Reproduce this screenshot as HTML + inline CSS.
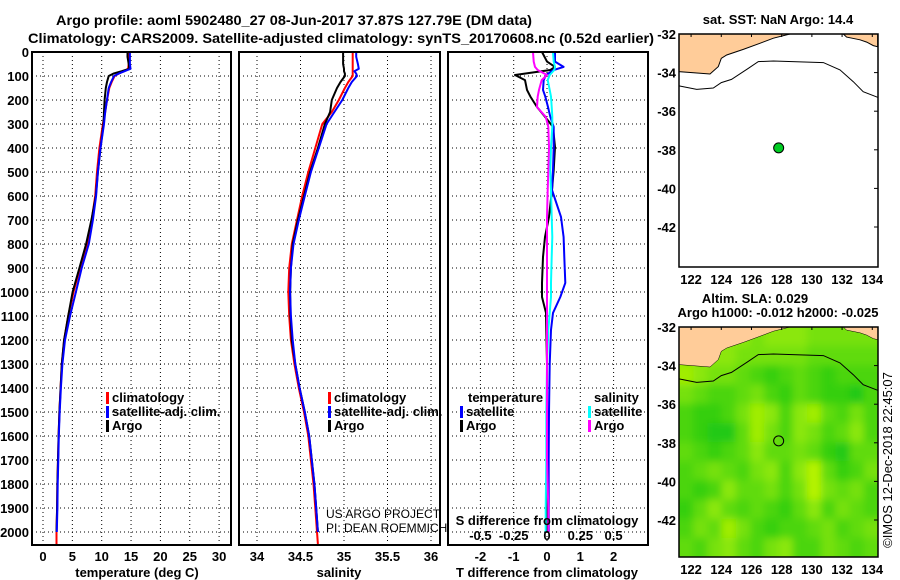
<!DOCTYPE html>
<html><head><meta charset="utf-8">
<style>
html,body{margin:0;padding:0;background:#fff;}
svg{display:block;font-family:"Liberation Sans",Arial,sans-serif;}
.b{font-weight:bold;}
</style></head>
<body>
<svg id="c" width="900" height="580" viewBox="0 0 900 580" xmlns="http://www.w3.org/2000/svg">
<text x="294" y="25" text-anchor="middle" class="b" font-size="14" textLength="476" lengthAdjust="spacingAndGlyphs">Argo profile: aoml 5902480_27 08-Jun-2017 37.87S 127.79E (DM data)</text>
<text x="341" y="43" text-anchor="middle" class="b" font-size="14" textLength="626" lengthAdjust="spacingAndGlyphs">Climatology: CARS2009. Satellite-adjusted climatology: synTS_20170608.nc (0.52d earlier)</text>
<g id="layer"></g>
</svg>
<script>
// ---------- data ----------
const depths = [0,20,50,70,80,90,100,125,150,200,250,300,400,500,600,700,800,900,1000,1100,1200,1300,1400,1500,1600,1700,1800,1900,2000,2050];
const tClim = [14.6,14.6,14.6,14.5,13.8,12.9,12.2,11.7,11.3,10.9,10.6,10.2,9.6,9.2,8.9,8.3,7.5,6.3,5.2,4.3,3.6,3.2,3.0,2.8,2.65,2.55,2.45,2.4,2.3,2.3];
const tSat = [14.8,14.8,14.8,14.9,13.9,12.9,12.1,11.6,11.2,10.9,10.6,10.4,9.8,9.35,9.05,8.5,7.8,6.6,5.6,4.6,3.75,3.3,3.05,2.85,2.7,2.6,2.5,2.45,2.35,null];
const tArgo = [14.4,14.4,14.6,14.7,13.4,12.0,11.2,10.9,10.7,10.5,10.4,10.3,9.8,9.35,9.0,8.25,7.35,6.2,5.05,4.3,3.6,3.2,3.0,2.8,2.65,2.55,2.45,2.4,2.3,null];
const sClim = [35.1,35.1,35.1,35.1,35.1,35.1,35.1,35.05,35.01,34.94,34.86,34.75,34.67,34.59,34.52,34.46,34.40,34.37,34.36,34.37,34.39,34.43,34.48,34.54,34.59,34.62,34.65,34.67,34.69,34.70];
const sSat = [35.14,35.14,35.16,35.17,35.12,35.14,35.15,35.09,35.05,34.98,34.89,34.80,34.71,34.62,34.55,34.48,34.42,34.39,34.38,34.39,34.41,34.44,34.49,34.55,34.6,34.63,34.66,34.68,34.70,null];
const sArgo = [34.99,34.99,34.99,35.0,35.0,35.01,35.01,34.96,34.92,34.86,34.84,34.78,34.70,34.61,34.54,34.47,34.41,34.39,34.38,34.385,34.40,34.44,34.49,34.55,34.60,34.63,34.66,34.68,34.70,null];

const dDepths = [0,40,62,75,96,117,158,186,229,270,312,396,492,575,687,771,854,962,1021,1087,1158,1300,1500,1700,1900,2000];
const dTArgo = [-0.15,0.0,0.24,0.1,-0.96,-0.66,-0.6,-0.5,-0.3,-0.06,0.18,0.24,0.2,0.15,0.06,-0.06,-0.12,-0.15,-0.15,-0.03,-0.02,0.0,0.0,0.0,0.0,0.0];
const dTSat = [0.24,0.24,0.5,0.2,-0.03,-0.1,-0.12,-0.05,0.03,0.1,0.2,0.2,0.18,0.15,0.42,0.5,0.52,0.55,0.4,0.18,0.12,0.08,0.06,0.05,0.05,0.05];
const dSArgo = [-0.105,-0.1,-0.09,-0.07,0.0,-0.04,-0.06,-0.07,-0.075,-0.01,0.01,0.015,0.01,0.005,0.0,0.0,0.0,0.0,0.0,0.0,0.0,0.0,0.0,0.0,0.01,0.01];
const dSSat = [0.045,0.05,0.06,0.055,0.02,0.005,0.02,0.03,0.035,0.04,0.04,0.03,0.025,0.03,0.035,0.04,0.035,0.03,0.03,0.02,0.01,0.0,-0.005,-0.005,-0.01,-0.01];

const depthTicks = [0,100,200,300,400,500,600,700,800,900,1000,1100,1200,1300,1400,1500,1600,1700,1800,1900,2000];
const tTicks = [0,5,10,15,20,25,30];
const sTicks = [34,34.5,35,35.5,36];
const sTickLabels = ["34","34.5","35","35.5","36"];
const tdTicks = [-2,-1,0,1,2];
const sdTicks = [-0.5,-0.25,0,0.25,0.5];
const sdTickLabels = ["-0.5","-0.25","0","0.25","0.5"];

const latTicks = [-32,-34,-36,-38,-40,-42];
const lonTicks = [122,124,126,128,130,132,134];
const floatLon = [127.8];
const floatLat = [-37.9];
const landWestLon = [121.2,121.2,123.25,123.8,124.0,124.36,125.46,126.56,127.45,128.55];
const landWestLat = [-32,-33.95,-34.07,-33.69,-33.26,-33.09,-32.8,-32.48,-32.22,-32];
const landEastLon = [132.08,132.3,133.19,133.63,134.07,134.36,134.36];
const landEastLat = [-32,-32.16,-32.3,-32.42,-32.6,-32.66,-32];
const isoLon = [121.2,122.37,123.47,124.0,124.68,125.78,126.45,127.45,130.76,131.86,132.74,133.4,134.36];
const isoLat = [-34.69,-34.87,-34.8,-34.52,-34.35,-33.78,-33.43,-33.4,-33.48,-33.86,-34.47,-34.99,-35.28];
const slaGrid = [
[.6,.6,.6,.6,.6,.5,.6,.6,.6,.5,.5,.5,.5,.5],
[.6,.6,.6,.6,.5,.5,.5,.5,.5,.4,.4,.4,.4,.4],
[.7,.6,.5,.5,.4,.3,.2,.3,.4,.3,.2,.3,.3,.3],
[.5,.4,.3,.3,.4,.5,.3,.2,.4,.3,.2,.2,.1,.3],
[.3,.2,.2,.3,.5,.7,.6,.3,.6,.7,.4,.3,.5,.3],
[.3,.2,.1,.1,.4,.7,.5,.3,.6,.5,.3,.4,.6,.3],
[.4,.3,.2,.3,.4,.6,.4,.4,.5,.4,.2,.1,.4,.4],
[.3,.4,.5,.4,.3,.5,.6,.3,.6,.8,.4,.2,.3,.5],
[.3,.2,.3,.6,.4,.4,.5,.3,.5,.8,.5,.4,.5,.3],
[.2,.4,.6,.4,.3,.4,.3,.2,.4,.6,.3,.5,.4,.3],
[.3,.5,.4,.7,.5,.3,.2,.3,.3,.4,.5,.3,.4,.5],
[.4,.3,.5,.6,.4,.3,.5,.6,.3,.3,.5,.4,.3,.4]
];

// ---------- scales ----------
const yD = d => 52 + d*0.24;
const xT = t => 43 + t*5.87;
const xS = s => 257 + (s-34)*87;
const xTd = v => 547 + v*33.3;
const xSd = v => 547 + v*133.2;
const lonX = l => 679 + (l-121.2)*15.1;
const latY1 = la => 34 + (-32-la)*19.3;
const latY2 = la => 327 + (-32-la)*19.3;

const NS = "http://www.w3.org/2000/svg";
const L = document.getElementById('layer');
function mk(tag, attrs, parent){
  const e = document.createElementNS(NS, tag);
  for (const k in attrs) e.setAttribute(k, attrs[k]);
  (parent||L).appendChild(e);
  return e;
}
function txt(x,y,s,size,anchor,bold,parent){
  const e = mk('text',{x:x,y:y,'font-size':size,'text-anchor':anchor||'start'},parent);
  if (bold) e.setAttribute('font-weight','bold');
  e.textContent = s;
  return e;
}
function linePath(ds, vs, xf){
  let p = '';
  for (let i=0;i<ds.length;i++){
    if (vs[i]===null || vs[i]===undefined) continue;
    p += (p===''?'M':' L') + xf(vs[i]).toFixed(1)+' '+yD(ds[i]).toFixed(1);
  }
  return p;
}

// ---------- profile panels ----------
const panels = [
  {name:'temperature-panel', x0:32, x1:231},
  {name:'salinity-panel', x0:239, x1:440},
  {name:'difference-panel', x0:448, x1:648}
];
const yBot = 545;
panels.forEach(p=>{
  const g = mk('g',{});
  
  
  p.g = g;
  depthTicks.forEach(d=>{
    const gl = mk('line',{x1:p.x0,x2:p.x1,y1:yD(d),y2:yD(d),stroke:'#000','stroke-width':1,'stroke-dasharray':'1,3'},g);
    
    
  });
});
function vgrid(g, xs){
  xs.forEach(x=>{
    const gl = mk('line',{x1:x,x2:x,y1:52,y2:yBot,stroke:'#000','stroke-width':1,'stroke-dasharray':'1,3'},g);
    
    
  });
}
vgrid(panels[0].g, tTicks.map(xT));
vgrid(panels[1].g, sTicks.map(xS));
vgrid(panels[2].g, tdTicks.map(xTd));

depthTicks.forEach(d=>{
  const t = txt(29, yD(d)+5, String(d), 13, 'end', true);
  
  
});
tTicks.forEach(v=>{
  const t = txt(xT(v), 561, String(v), 13, 'middle', true);
  
  
});
sTicks.forEach((v,i)=>{
  const t = txt(xS(v), 561, sTickLabels[i], 13, 'middle', true);
  
  
});
tdTicks.forEach(v=>{
  const t = txt(xTd(v), 561, String(v), 13, 'middle', true);
  
  
});
sdTicks.forEach((v,i)=>{
  const t = txt(xSd(v), 540, sdTickLabels[i], 13, 'middle', true);
  
  
});
let at;
at = txt(137, 577, 'temperature (deg C)', 13, 'middle', true);
 
at = txt(339, 577, 'salinity', 13, 'middle', true);
 
at = txt(547, 577, 'T difference from climatology', 13, 'middle', true);
 
at = txt(547, 525, 'S difference from climatology', 13, 'middle', true);
 

function series(g, ds, vs, xf, color, name){
  const e = mk('path',{d:linePath(ds,vs,xf),fill:'none',stroke:color,'stroke-width':2,'stroke-linejoin':'round'},g);
  
  
}
series(panels[0].g, depths, tClim, xT, '#ff0000', 'temperature-climatology-line');
series(panels[0].g, depths, tArgo, xT, '#000000', 'temperature-argo-line');
series(panels[0].g, depths, tSat, xT, '#0000ff', 'temperature-satellite-line');
series(panels[1].g, depths, sClim, xS, '#ff0000', 'salinity-climatology-line');
series(panels[1].g, depths, sArgo, xS, '#000000', 'salinity-argo-line');
series(panels[1].g, depths, sSat, xS, '#0000ff', 'salinity-satellite-line');
series(panels[2].g, dDepths, dTArgo, xTd, '#000000', 't-diff-argo-line');
series(panels[2].g, dDepths, dTSat, xTd, '#0000ff', 't-diff-satellite-line');
series(panels[2].g, dDepths, dSSat, xSd, '#00ffff', 's-diff-satellite-line');
series(panels[2].g, dDepths, dSArgo, xSd, '#ff00ff', 's-diff-argo-line');

panels.forEach(p=>{
  const r = mk('rect',{x:p.x0,y:52,width:p.x1-p.x0,height:yBot-52,fill:'none',stroke:'#000','stroke-width':2},p.g);
  
  
});

function legItem(x,y,color,label,nm){
  const g = mk('g',{});
  
  
  mk('rect',{x:x,y:y-10,width:3,height:12,fill:color},g);
  txt(x+6,y,label,13,'start',true,g);
}
legItem(106,402,'#ff0000','climatology','legend-climatology');
legItem(106,416,'#0000ff','satellite-adj. clim.','legend-satellite-adj');
legItem(106,430,'#000000','Argo','legend-argo');
legItem(328,402,'#ff0000','climatology','legend-climatology-salinity');
legItem(328,416,'#0000ff','satellite-adj. clim.','legend-satellite-adj-salinity');
legItem(328,430,'#000000','Argo','legend-argo-salinity');
at = txt(468,402,'temperature',13,'start',true);
 
legItem(460,416,'#0000ff','satellite','legend-t-satellite');
legItem(460,430,'#000000','Argo','legend-t-argo');
at = txt(594,402,'salinity',13,'start',true);
 
legItem(588,416,'#00ffff','satellite','legend-s-satellite');
legItem(588,430,'#ff00ff','Argo','legend-s-argo');
at = txt(326,518,'US ARGO PROJECT',12,'start',false);
 
at = txt(326,532,'PI: DEAN ROEMMICH',12,'start',false);
 

// ---------- maps ----------
const MX0 = 679, MX1 = 878;
function polyPts(lons, lats, yf){
  return lons.map((l,i)=>lonX(l).toFixed(1)+','+yf(lats[i]).toFixed(1)).join(' ');
}
function mapAxes(g, yf, yTop, yBottom){
  latTicks.forEach(la=>{
    const t = txt(676, yf(la)+5, String(la), 13, 'end', true, g);
    
    
    mk('line',{x1:MX1-4,x2:MX1,y1:yf(la),y2:yf(la),stroke:'#000'},g);
  });
  lonTicks.forEach(lo=>{
    const t = txt(lonX(lo), yBottom+17, String(lo), 13, 'middle', true, g);
    
    
    mk('line',{x1:lonX(lo),x2:lonX(lo),y1:yTop,y2:yTop+3,stroke:'#000'},g);
  });
}
const m1 = mk('g',{});


mk('rect',{x:MX0,y:34,width:MX1-MX0,height:233,fill:'#fff'},m1);
let e;
e = mk('polygon',{points:polyPts(landWestLon,landWestLat,latY1),fill:'#ffcc99',stroke:'#000','stroke-width':1},m1);
 
e = mk('polygon',{points:polyPts(landEastLon,landEastLat,latY1),fill:'#ffcc99',stroke:'#000','stroke-width':1},m1);
 
e = mk('polyline',{points:polyPts(isoLon,isoLat,latY1),fill:'none',stroke:'#000','stroke-width':1},m1);
 
e = mk('circle',{cx:lonX(floatLon[0]),cy:latY1(floatLat[0]),r:5,fill:'#00cc22',stroke:'#000','stroke-width':1},m1);
 
mk('rect',{x:MX0,y:34,width:MX1-MX0,height:233,fill:'none',stroke:'#000','stroke-width':1.5},m1);
mapAxes(m1, latY1, 34, 267);
e = txt(778, 24, 'sat. SST: NaN Argo: 14.4', 13, 'middle', true, m1);
 

const m2 = mk('g',{});


const defs = mk('defs',{});
const cp = mk('clipPath',{id:'clip2'},defs);
mk('rect',{x:MX0,y:327,width:MX1-MX0,height:230},cp);
const flt = mk('filter',{id:'soft',x:'-5%',y:'-5%',width:'110%',height:'110%'},defs);
mk('feGaussianBlur',{stdDeviation:'4'},flt);
const hmClip = mk('g',{'clip-path':'url(#clip2)'},m2);
const hm = mk('g',{filter:'url(#soft)'},hmClip);
const rows = slaGrid.length, cols = slaGrid[0].length;
const cw = (MX1-MX0)/cols, ch = 230/rows;
function slaColor(v){
  const r = Math.round(10 + v*(225-10)), gg = Math.round(195 + v*(255-195)), b = Math.round(20 - v*20);
  return 'rgb('+r+','+gg+','+b+')';
}
slaGrid.forEach((row,ri)=>row.forEach((v,ci)=>{
  // edge cells extended outward so blur doesn't fade at the frame
  const x = MX0+ci*cw - (ci===0?10:0), y = 327+ri*ch - (ri===0?10:0);
  const w = cw+0.6 + (ci===0?10:0) + (ci===cols-1?10:0);
  const h = ch+0.6 + (ri===0?10:0) + (ri===rows-1?10:0);
  const c = mk('rect',{x:x.toFixed(1),y:y.toFixed(1),width:w.toFixed(1),height:h.toFixed(1),fill:slaColor(v)},hm);
  
  
}));
e = mk('polygon',{points:polyPts(landWestLon,landWestLat,latY2),fill:'#ffcc99',stroke:'#000','stroke-width':0.5},hmClip);
 
e = mk('polygon',{points:polyPts(landEastLon,landEastLat,latY2),fill:'#ffcc99',stroke:'#000','stroke-width':0.5},hmClip);
 
e = mk('polyline',{points:polyPts(isoLon,isoLat,latY2),fill:'none',stroke:'#000','stroke-width':1},hmClip);
 
e = mk('circle',{cx:lonX(floatLon[0]),cy:latY2(floatLat[0]),r:5,fill:'none',stroke:'#000','stroke-width':1},m2);
 
mk('rect',{x:MX0,y:327,width:MX1-MX0,height:230,fill:'none',stroke:'#000','stroke-width':1.5},m2);
mapAxes(m2, latY2, 327, 557);
e = txt(755, 303, 'Altim. SLA: 0.029', 13, 'middle', true, m2);
 
e = txt(778, 317, 'Argo h1000: -0.012 h2000: -0.025', 13, 'middle', true, m2);
 
e = txt(0, 0, '©IMOS 12-Dec-2018 22:45:07', 13, 'middle', false);
e.setAttribute('transform','translate(892,460) rotate(-90)');
 
</script>
</body></html>
